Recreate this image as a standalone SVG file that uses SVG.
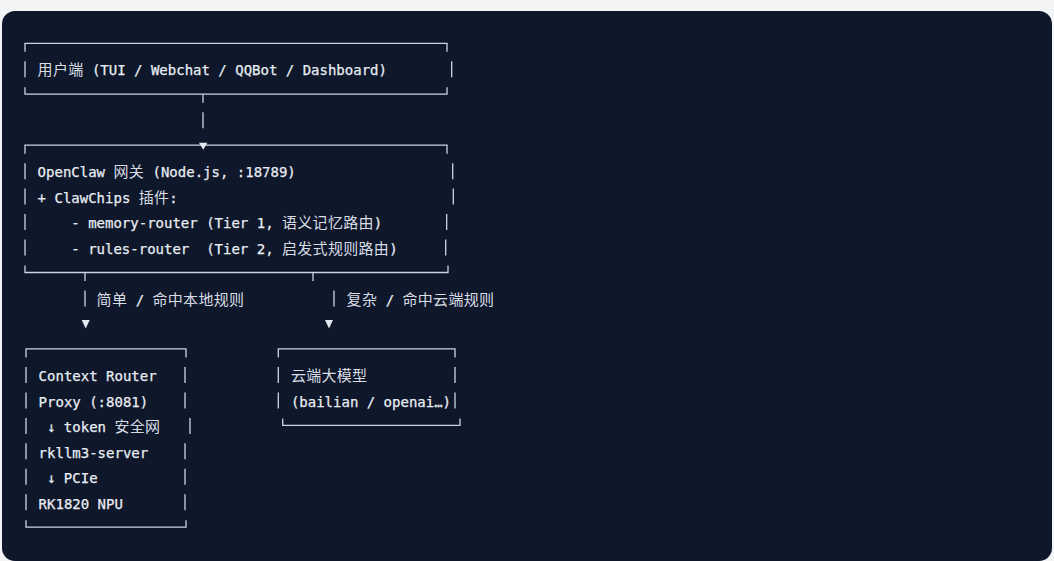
<svg xmlns="http://www.w3.org/2000/svg" width="1054" height="561" viewBox="0 0 1054 561" xml:space="preserve">
<style>
.bg{fill:#f3f4f6}
.panel{fill:#0f172a}
.frame{fill:none;stroke:#cbd5e1;stroke-width:1.3}
.head{fill:#e2e8f0}
.t{font-family:"DejaVu Sans Mono","Liberation Mono","Noto Sans CJK SC",monospace;font-size:14px;fill:#e8edf3;stroke:#e8edf3;stroke-width:0.25;white-space:pre}
.c{font-family:"Noto Sans CJK SC","Noto Sans CJK JP",sans-serif;font-size:15px;letter-spacing:0.3px;fill:#d8dde5;stroke:none}
</style>
<rect class="bg" x="0" y="0" width="1054" height="561"/>
<rect class="panel" x="2" y="11" width="1050" height="550" rx="13"/>

<g id="node-client">
<path class="frame" d="M25 51.8V43.3H447V51.8M25 61.3V77.3M451.7 61.3V77.3M25 87.2V94.2H447V87.2"/>
<text class="t" x="37.6" y="75.3"><tspan class="c">用户端</tspan> (TUI / Webchat / QQBot / Dashboard)</text>
</g>

<g id="node-gateway">
<path class="frame" d="M25 153.7V145.2H447V153.7M25 163.2V179.2M452.7 163.2V179.2M25 188.6V204.6M453.3 188.6V204.6M25 214.1V230.1M446.7 214.1V230.1M25 239.6V255.6M445.7 239.6V255.6M25 265.5V272.5H448V265.5"/>
<text class="t" x="37.6" y="177.2">OpenClaw <tspan class="c">网关</tspan> (Node.js, :18789)</text>
<text class="t" x="37.6" y="202.6">+ ClawChips <tspan class="c">插件</tspan>:</text>
<text class="t" x="71.3" y="228.1">- memory-router (Tier 1, <tspan class="c">语义记忆路由</tspan>)</text>
<text class="t" x="71.3" y="253.6">- rules-router  (Tier 2, <tspan class="c">启发式规则路由</tspan>)</text>
</g>

<g id="node-local">
<path class="frame" d="M26 357.4V348.9H186V357.4M26 366.9V382.9M185 366.9V382.9M26 392.4V408.4M185 392.4V408.4M26 417.9V433.9M190 417.9V433.9M26 443.3V459.3M185 443.3V459.3M26 468.8V484.8M185 468.8V484.8M26 494.3V510.3M185 494.3V510.3M26 520.2V527.2H186V520.2"/>
<text class="t" x="38.6" y="381.4">Context Router</text>
<text class="t" x="38.6" y="406.9">Proxy (:8081)</text>
<text class="t" x="47.0" y="432.4">↓ token <tspan class="c">安全网</tspan></text>
<text class="t" x="38.6" y="457.8">rkllm3-server</text>
<text class="t" x="47.0" y="483.3">↓ PCIe</text>
<text class="t" x="38.6" y="508.8">RK1820 NPU</text>
</g>

<g id="node-cloud">
<path class="frame" d="M278.3 357.4V348.9H455V357.4M278.3 366.9V382.9M455 366.9V382.9M278.3 392.4V408.4M455 392.4V408.4M282.7 418.4V425.4H460V418.4"/>
<text class="t" x="290.9" y="381.4"><tspan class="c">云端大模型</tspan></text>
<text class="t" x="290.9" y="406.9">(bailian / openai…)</text>
</g>

<g id="connectors">
<g id="edge-client-gateway">
<path class="frame" d="M203 94.2V102.7M203 112.2V128.2"/>
<polygon class="head" points="199,142.7 207.4,142.7 203.2,149.7"/>
</g>
<g id="edge-gateway-local">
<path class="frame" d="M85 272.5V281M85 290.5V306.5"/>
<polygon class="head" points="81.7,320 89.7,320 85.7,328.5"/>
<text class="t" x="96.6" y="304.5"><tspan class="c">简单</tspan> / <tspan class="c">命中本地规则</tspan></text>
</g>
<g id="edge-gateway-cloud">
<path class="frame" d="M313 272.5V281M334 290.5V306.5"/>
<polygon class="head" points="325,320 333,320 329,328.5"/>
<text class="t" x="346.6" y="304.5"><tspan class="c">复杂</tspan> / <tspan class="c">命中云端规则</tspan></text>
</g>
</g>
</svg>
